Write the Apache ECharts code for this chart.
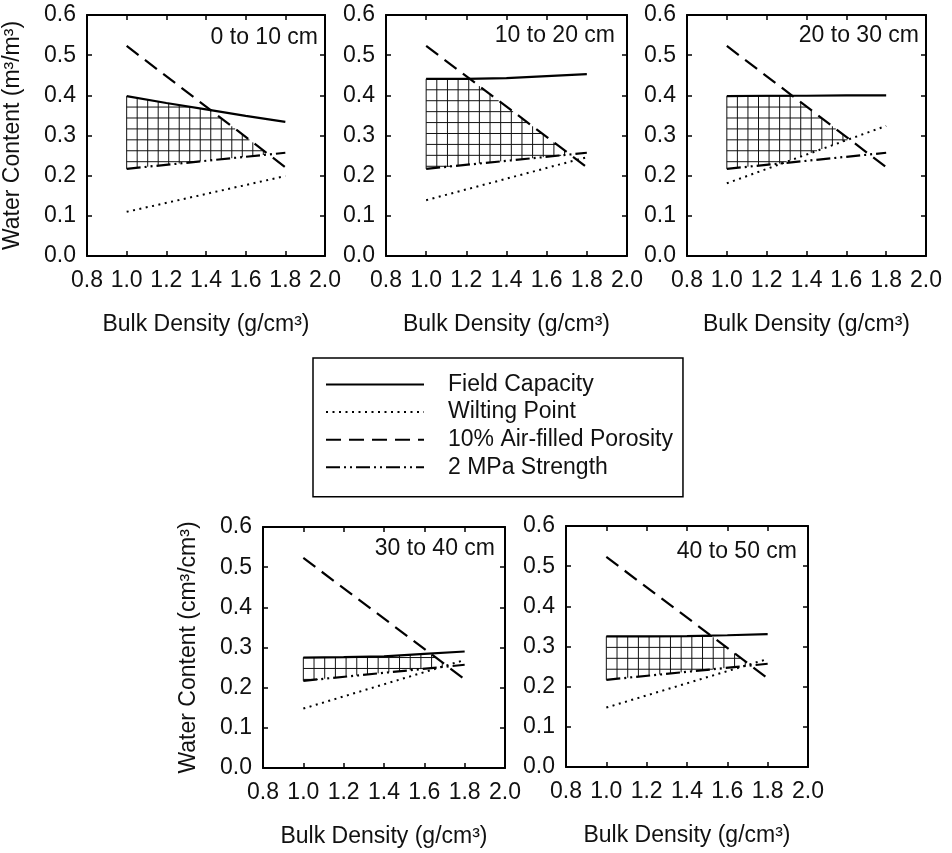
<!DOCTYPE html>
<html>
<head>
<meta charset="utf-8">
<script src="https://cdn.jsdelivr.net/npm/echarts@6/dist/echarts.min.js"></script>
<style>html,body{margin:0;padding:0;background:#fff;}#c{width:952px;height:853px;}</style>
</head>
<body>
<div id="c"></div>
<script>
// ---- data ----
const panelNames = ['0 to 10 cm', '10 to 20 cm', '20 to 30 cm', '30 to 40 cm', '40 to 50 cm'];
const bdFC = [1.0, 1.2, 1.4, 1.6, 1.8];          // bulk density points for field capacity
const bdLine = [1.0, 1.8];                        // bulk density end points for straight lines
const fieldCapacity = [
  [0.398, 0.381, 0.365, 0.349, 0.334],
  [0.441, 0.441, 0.443, 0.448, 0.453],
  [0.398, 0.399, 0.399, 0.400, 0.400],
  [0.275, 0.276, 0.278, 0.284, 0.290],
  [0.325, 0.325, 0.326, 0.328, 0.331]
];
const wiltingPoint = [
  [0.110, 0.199],
  [0.139, 0.246],
  [0.181, 0.324],
  [0.148, 0.269],
  [0.148, 0.269]
];
const airPorosity = [0.523, 0.221];
const strength2MPa = [0.217, 0.257];
const xTicks = [0.8, 2.0, 0.2];   // min, max, interval
const yTicks = [0.0, 0.6, 0.1];
const yTitles = ['Water Content (m³/m³)', '', '', 'Water Content (cm³/cm³)', ''];
const xTitle = 'Bulk Density (g/cm³)';
const seriesNames = ['Field Capacity', 'Wilting Point', '10% Air-filled Porosity', '2 MPa Strength'];

// ---- layout ----
const grids = [
  {left: 85, top: 15, width: 240, height: 241},
  {left: 386, top: 15, width: 241, height: 241},
  {left: 687, top: 15, width: 239, height: 241},
  {left: 263, top: 527, width: 242, height: 241},
  {left: 566, top: 526, width: 242, height: 241}
];
const labelPos = [
  {right: 634, top: 26}, {right: 337, top: 24}, {right: 33, top: 24},
  {right: 457, top: 537}, {right: 155, top: 540}
];
const FONT = 'Liberation Sans, Arial, Helvetica, sans-serif';
const FS = 23;

function interp(xs, ys, x) {
  if (x <= xs[0]) return ys[0];
  for (let i = 1; i < xs.length; i++) {
    if (x <= xs[i]) {
      const t = (x - xs[i - 1]) / (xs[i] - xs[i - 1]);
      return ys[i - 1] + t * (ys[i] - ys[i - 1]);
    }
  }
  return ys[ys.length - 1];
}

// hatch grid segments for the region between min(FC, AFP) and max(WP, 2MPa)
function hatchSegments(p) {
  const up = x => Math.min(interp(bdFC, fieldCapacity[p], x), interp(bdLine, airPorosity, x));
  const lo = x => Math.max(interp(bdLine, wiltingPoint[p], x), interp(bdLine, strength2MPa, x));
  const x0 = bdLine[0];
  let xEnd = x0;
  for (let x = x0; x <= bdLine[1]; x += 0.001) { if (up(x) > lo(x)) xEnd = x; else break; }
  const segs = [];
  const DX = 0.053, DY = 0.0272;
  for (let x = x0; x <= xEnd + 1e-9; x += DX) segs.push([x, lo(x), x, up(x)]);
  const yTop = up(x0);
  let yMin = Infinity;
  for (let x = x0; x <= xEnd; x += 0.001) yMin = Math.min(yMin, lo(x));
  for (let y = yTop; y > yMin; y -= DY) {
    let a = null, b = null;
    for (let x = x0; x <= xEnd; x += 0.001) {
      if (lo(x) <= y && y <= up(x) + 1e-9) { if (a === null) a = x; b = x; }
    }
    if (a !== null && b > a) segs.push([a, y, b, y]);
  }
  return segs;
}

const lineStyles = [
  {color: '#000', width: 2.2, type: 'solid'},
  {color: '#000', width: 2, type: [2, 4.5]},
  {color: '#000', width: 2.2, type: [15, 8]},
  {color: '#000', width: 2.2, type: [14, 4, 2, 4, 2, 4]}
];

const xAxes = [], yAxes = [], series = [], titles = [];
grids.forEach((g, i) => {
  const baseX = {
    gridIndex: i, type: 'value', min: xTicks[0], max: xTicks[1], interval: xTicks[2],
    axisLine: {show: true, onZero: false, lineStyle: {color: '#000', width: 2}},
    axisTick: {show: true, inside: true, length: 5, lineStyle: {color: '#000', width: 1.5}},
    splitLine: {show: false}
  };
  xAxes.push(Object.assign({}, baseX, {
    position: 'bottom',
    axisLabel: {show: true, margin: 13, fontSize: FS, color: '#111', fontFamily: FONT,
      formatter: v => v.toFixed(1)},
    name: xTitle, nameLocation: 'middle', nameGap: 57,
    nameTextStyle: {fontSize: FS, color: '#111', fontFamily: FONT}
  }));
  xAxes.push(Object.assign({}, baseX, {position: 'top', axisLabel: {show: false}}));
  const baseY = {
    gridIndex: i, type: 'value', min: yTicks[0], max: yTicks[1], interval: yTicks[2],
    axisLine: {show: true, onZero: false, lineStyle: {color: '#000', width: 2}},
    axisTick: {show: true, inside: true, length: 5, lineStyle: {color: '#000', width: 1.5}},
    splitLine: {show: false}
  };
  yAxes.push(Object.assign({}, baseY, {
    position: 'left',
    axisLabel: {show: true, margin: 11, fontSize: FS, color: '#111', fontFamily: FONT,
      formatter: v => v.toFixed(1)},
    name: yTitles[i], nameLocation: 'middle', nameGap: 63, nameRotate: 90,
    nameTextStyle: {fontSize: FS, color: '#111', fontFamily: FONT}
  }));
  yAxes.push(Object.assign({}, baseY, {position: 'right', axisLabel: {show: false}}));

  const xi = 2 * i, yi = 2 * i;
  series.push({
    type: 'custom', name: 'hatch' + i, xAxisIndex: xi, yAxisIndex: yi, z: 1, silent: true,
    data: hatchSegments(i),
    encode: {x: [0, 2], y: [1, 3]},
    renderItem: function (params, api) {
      const a = api.coord([api.value(0), api.value(1)]);
      const b = api.coord([api.value(2), api.value(3)]);
      return {type: 'line', shape: {x1: a[0], y1: a[1], x2: b[0], y2: b[1]},
        style: {stroke: '#111', lineWidth: 1}};
    }
  });
  const dataSets = [
    bdFC.map((x, k) => [x, fieldCapacity[i][k]]),
    bdLine.map((x, k) => [x, wiltingPoint[i][k]]),
    bdLine.map((x, k) => [x, airPorosity[k]]),
    bdLine.map((x, k) => [x, strength2MPa[k]])
  ];
  dataSets.forEach((d, s) => {
    series.push({
      type: 'line', name: seriesNames[s], xAxisIndex: xi, yAxisIndex: yi, z: 3,
      data: d, symbol: 'none', showSymbol: false, silent: true, animation: false,
      lineStyle: Object.assign({cap: 'butt'}, lineStyles[s]),
      itemStyle: {color: '#000'}
    });
  });
  titles.push({
    text: panelNames[i], right: labelPos[i].right, top: labelPos[i].top, padding: 0,
    textStyle: {fontSize: FS, fontWeight: 'normal', color: '#111', fontFamily: FONT, lineHeight: 23}
  });
});

const chart = echarts.init(document.getElementById('c'), null, {renderer: 'canvas'});
chart.setOption({
  animation: false,
  backgroundColor: '#fff',
  title: titles,
  grid: grids,
  xAxis: xAxes,
  yAxis: yAxes,
  legend: {
    data: seriesNames,
    orient: 'vertical', left: 313, top: 358,
    borderColor: '#000', borderWidth: 1.5, padding: [15, 10, 18, 12],
    itemWidth: 98, itemHeight: 14, itemGap: 4.6, selectedMode: false,
    itemStyle: {opacity: 0, borderWidth: 0},
    lineStyle: {opacity: 1},
    textStyle: {fontSize: FS, color: '#111', fontFamily: FONT, lineHeight: 23, padding: [0, 0, 0, 19]}
  },
  series: series
});
</script>
</body>
</html>
